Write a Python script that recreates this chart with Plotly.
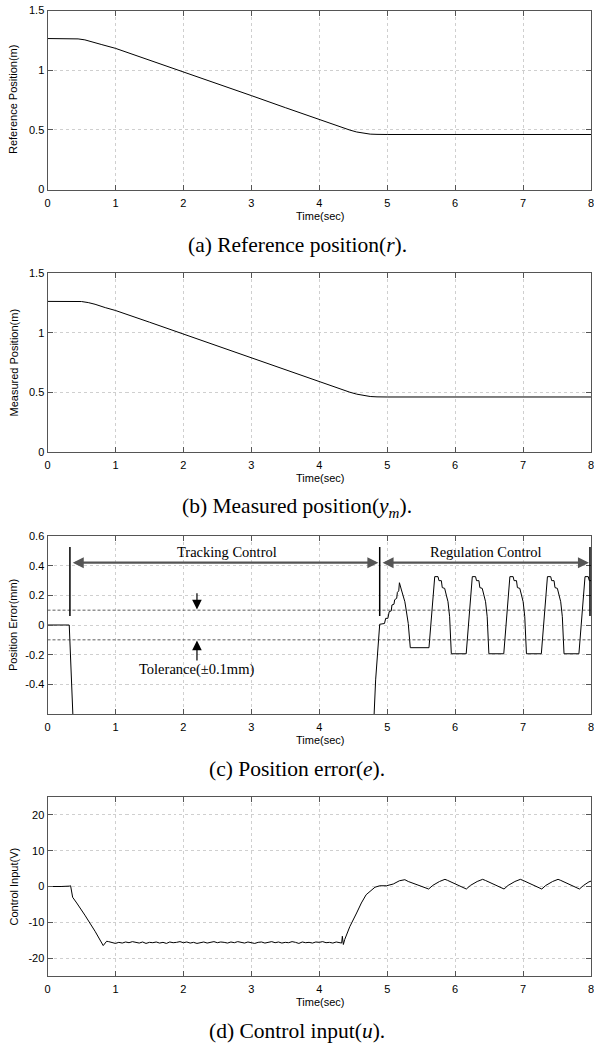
import numpy as np
import plotly.graph_objects as go

# ---------------- data ----------------
t_r = [0, 0.3, 0.45, 0.55, 0.65, 0.8, 1.0, 1.5, 2.0, 2.5, 3.0, 3.5, 4.0, 4.2, 4.35, 4.45, 4.55, 4.65, 4.75, 4.85, 5.0, 8.0]
r_ref = [1.265, 1.265, 1.262, 1.254, 1.240, 1.214, 1.183, 1.085, 0.985, 0.886, 0.787, 0.686, 0.585, 0.545,
         0.515, 0.498, 0.482, 0.470, 0.464, 0.462, 0.461, 0.461]

t_ym = [0, 0.3, 0.5, 0.6, 0.7, 0.85, 1.0, 1.5, 2.0, 2.5, 3.0, 3.5, 4.0, 4.2, 4.35, 4.45, 4.55, 4.65, 4.75, 4.85, 5.0, 8.0]
y_meas = [1.262, 1.263, 1.261, 1.252, 1.238, 1.210, 1.186, 1.088, 0.988, 0.889, 0.789, 0.689, 0.590, 0.550,
          0.520, 0.501, 0.485, 0.472, 0.465, 0.462, 0.461, 0.461]

t_e = [0, 0.32, 0.38, 4.80, 4.83, 4.89, 4.96, 4.978, 5.01, 5.03, 5.06, 5.07, 5.10, 5.11, 5.14, 5.15, 5.17, 5.18,
       5.21, 5.23, 5.26, 5.28, 5.31, 5.34, 5.615,
       5.70, 5.748, 5.762, 5.797, 5.811, 5.846, 5.870, 5.895, 5.919, 5.944, 6.163,
       6.253, 6.301, 6.315, 6.350, 6.364, 6.399, 6.423, 6.448, 6.472, 6.497, 6.716,
       6.806, 6.854, 6.868, 6.903, 6.917, 6.952, 6.976, 7.001, 7.025, 7.050, 7.269,
       7.359, 7.407, 7.421, 7.456, 7.470, 7.505, 7.529, 7.554, 7.578, 7.603, 7.822,
       7.912, 7.960, 7.974, 8.0]
err = [0, 0, -0.68, -0.68, -0.37, 0.005, 0.01, 0.045, 0.045, 0.09, 0.095, 0.135, 0.14, 0.17, 0.18, 0.22, 0.23, 0.285,
       0.236, 0.20, 0.157, 0.10, 0.01, -0.153, -0.153,
       0.326, 0.326, 0.299, 0.299, 0.252, 0.247, 0.202, 0.157, 0.056, -0.194, -0.194,
       0.326, 0.326, 0.299, 0.299, 0.252, 0.247, 0.202, 0.157, 0.056, -0.194, -0.194,
       0.326, 0.326, 0.299, 0.299, 0.252, 0.247, 0.202, 0.157, 0.056, -0.194, -0.194,
       0.326, 0.326, 0.299, 0.299, 0.252, 0.247, 0.202, 0.157, 0.056, -0.194, -0.194,
       0.326, 0.326, 0.299, 0.299]

t_u_start = [0, 0.10, 0.20, 0.32, 0.34, 0.37, 0.40, 0.43, 0.55, 0.70, 0.82, 0.87]
u_start = [0, -0.1, 0.0, 0.1, 0.2, -3.0, -3.7, -4.6, -8.0, -12.5, -16.5, -15.3]
t_u_plateau = list(np.round(np.arange(0.90, 4.3001, 0.05), 3))
u_plateau = [-15.4, -15.7, -15.9, -15.6, -15.8, -15.5, -15.7, -15.4, -15.6, -15.8,
             -15.5, -15.9, -15.6, -15.7, -15.5, -15.8, -15.6, -15.9, -15.5, -15.7,
             -15.6, -15.4, -15.7, -15.5, -15.8, -15.6, -15.9, -15.7, -15.5, -15.8,
             -15.6, -15.4, -15.7, -15.5, -15.6, -15.8, -15.5, -15.7, -15.4, -15.6,
             -15.8, -15.5, -15.7, -15.9, -15.6, -15.5, -15.8, -15.6, -15.4, -15.7,
             -15.5, -15.8, -15.6, -15.7, -15.4, -15.6, -15.9, -15.5, -15.7, -15.6,
             -15.8, -15.5, -15.6, -15.4, -15.7, -15.6, -15.8, -15.5, -15.7]
t_u_end = [4.33, 4.34, 4.355, 4.375, 4.45, 4.55, 4.62, 4.69, 4.74, 4.82, 4.89, 4.99, 5.09, 5.18, 5.26, 5.31, 5.61,
           5.67, 5.77, 5.85, 5.89, 6.165,
           6.225, 6.325, 6.405, 6.445, 6.72,
           6.78, 6.88, 6.96, 7.00, 7.275,
           7.335, 7.435, 7.515, 7.555, 7.83,
           7.89, 7.97, 8.0]
u_end = [-15.8, -13.9, -16.2, -14.8, -11.2, -7.4, -4.6, -2.3, -1.4, -0.2, 0.2, 0.2, 0.7, 1.6, 1.9, 1.4, -0.7,
         0.3, 1.4, 2.0, 1.7, -0.7,
         0.3, 1.4, 2.0, 1.7, -0.7,
         0.3, 1.4, 2.0, 1.7, -0.7,
         0.3, 1.4, 2.0, 1.7, -0.7,
         0.3, 1.3, 1.5]
t_u = t_u_start + t_u_plateau + t_u_end
u_in = u_start + u_plateau + u_end

x_ticks = [0, 1, 2, 3, 4, 5, 6, 7, 8]
captions = ["(a) Reference position(<i>r</i>).",
            "(b) Measured position(<i>y<sub>m</sub></i>).",
            "(c) Position error(<i>e</i>).",
            "(d) Control input(<i>u</i>)."]
ytitles = ["Reference Position(m)", "Measured Position(m)", "Position Error(mm)", "Control Input(V)"]

# ---------------- layout ----------------
W, H = 594, 1044
def py(p):
    return 1 - p / H
def px(p):
    return p / W

X0, X1 = 47.5, 591
panels = [(10.5, 189.5), (273, 452), (536, 714), (797, 976)]

fig = go.Figure()
fig.add_trace(go.Scatter(x=t_r, y=r_ref, mode="lines", line=dict(color="black", width=1), xaxis="x", yaxis="y"))
fig.add_trace(go.Scatter(x=t_ym, y=y_meas, mode="lines", line=dict(color="black", width=1), xaxis="x2", yaxis="y2"))
fig.add_trace(go.Scatter(x=t_e, y=err, mode="lines", line=dict(color="black", width=1), xaxis="x3", yaxis="y3"))
fig.add_trace(go.Scatter(x=t_u, y=u_in, mode="lines", line=dict(color="black", width=1), xaxis="x4", yaxis="y4"))

tickfont = dict(family="Liberation Sans, Arial", size=11, color="black")
common = dict(showline=True, linecolor="#555", linewidth=1, mirror="ticks", ticks="inside", ticklen=5,
              tickcolor="#555", showgrid=True, gridcolor="#cfcfcf", griddash="dot", gridwidth=1,
              zeroline=False, tickfont=tickfont, automargin=False, ticklabeloverflow="allow")

yranges = [[0, 1.5], [0, 1.5], [-0.6, 0.6], [-25, 25]]
yticks = [([0, 0.5, 1, 1.5], ["0", "0.5", "1", "1.5"]),
          ([0, 0.5, 1, 1.5], ["0", "0.5", "1", "1.5"]),
          ([-0.4, -0.2, 0, 0.2, 0.4, 0.6], ["-0.4", "-0.2", "0", "0.2", "0.4", "0.6"]),
          ([-20, -10, 0, 10, 20], ["-20", "-10", "0", "10", "20"])]

lay = dict(width=W, height=H, margin=dict(l=0, r=0, t=0, b=0, autoexpand=False), paper_bgcolor="white",
           plot_bgcolor="white", showlegend=False)
annotations = []
for i, (top, bot) in enumerate(panels):
    k = "" if i == 0 else str(i + 1)
    lay["xaxis" + k] = dict(common, domain=[px(X0), px(X1)], range=[0, 8], tickvals=x_ticks,
                            ticktext=[str(v) for v in x_ticks], anchor="y" + k, ticklabelstandoff=3)
    lay["yaxis" + k] = dict(common, domain=[py(bot), py(top)], range=yranges[i], tickvals=yticks[i][0],
                            ticktext=yticks[i][1], anchor="x" + k)
    annotations.append(dict(text="Time(sec)", x=px((X0 + X1) / 2 + 1), y=py(bot + 26), xref="paper", yref="paper",
                            xanchor="center", yanchor="middle", showarrow=False,
                            font=dict(family="Liberation Sans, Arial", size=11, color="black")))
    annotations.append(dict(text=captions[i], x=px(297), y=py(bot + 55), xref="paper", yref="paper",
                            xanchor="center", yanchor="middle", showarrow=False,
                            font=dict(family="Liberation Serif, Times New Roman", size=21.5, color="black")))
    annotations.append(dict(text=ytitles[i], x=px(13), y=py((top + bot) / 2), xref="paper", yref="paper",
                            xanchor="center", yanchor="middle", textangle=-90, showarrow=False,
                            font=dict(family="Liberation Sans, Arial", size=11, color="black")))

# panel (c) annotations
serif = dict(family="Liberation Serif, Times New Roman", size=14.5, color="black")
shapes = []
for yv in [0.1, -0.1]:
    shapes.append(dict(type="line", xref="x3", yref="y3", x0=0, x1=8, y0=yv, y1=yv,
                       line=dict(color="#333", width=0.8, dash="3px,2px")))
for xv in [0.33, 4.89, 7.985]:
    shapes.append(dict(type="line", xref="x3", yref="y3", x0=xv, x1=xv, y0=0.06, y1=0.525,
                       line=dict(color="black", width=1.5)))
lay["shapes"] = shapes

arrow_common = dict(xref="x3", yref="y3", axref="x3", ayref="y3", text="", showarrow=True,
                    arrowhead=2, startarrowhead=2, arrowside="end+start", arrowsize=1, arrowwidth=2.2,
                    arrowcolor="#555")
annotations.append(dict(arrow_common, x=4.87, y=0.42, ax=0.35, ay=0.42))
annotations.append(dict(arrow_common, x=7.97, y=0.42, ax=4.91, ay=0.42))
# black arrowheads on top of the grey shafts
for tip, tail in [(0.35, 0.40), (4.87, 4.82), (4.91, 4.96), (7.97, 7.92)]:
    annotations.append(dict(xref="x3", yref="y3", axref="x3", ayref="y3", text="", showarrow=True,
                            arrowhead=2, arrowsize=1, arrowwidth=2.2, arrowcolor="black",
                            x=tip, y=0.42, ax=tail, ay=0.42))
annotations.append(dict(text="Tracking Control", x=2.64, y=0.495, xref="x3", yref="y3", showarrow=False,
                        xanchor="center", yanchor="middle", font=serif))
annotations.append(dict(text="Regulation Control", x=6.46, y=0.495, xref="x3", yref="y3", showarrow=False,
                        xanchor="center", yanchor="middle", font=serif))
annotations.append(dict(xref="x3", yref="y3", axref="x3", ayref="y3", text="", showarrow=True, arrowhead=2,
                        arrowsize=1.6, arrowwidth=1.2, arrowcolor="black", x=2.2, y=0.105, ax=2.2, ay=0.225))
annotations.append(dict(xref="x3", yref="y3", axref="x3", ayref="y3", text="", showarrow=True, arrowhead=2,
                        arrowsize=1.6, arrowwidth=1.2, arrowcolor="black", x=2.2, y=-0.105, ax=2.2, ay=-0.25))
annotations.append(dict(text="Tolerance(±0.1mm)", x=2.19, y=-0.30, xref="x3", yref="y3", showarrow=False,
                        xanchor="center", yanchor="middle", font=serif))

lay["annotations"] = annotations
fig.update_layout(**lay)
fig.write_html("out.html", config={"displayModeBar": False},
               post_script="document.body.style.margin='0';document.body.style.padding='0';document.body.style.overflow='hidden';")
